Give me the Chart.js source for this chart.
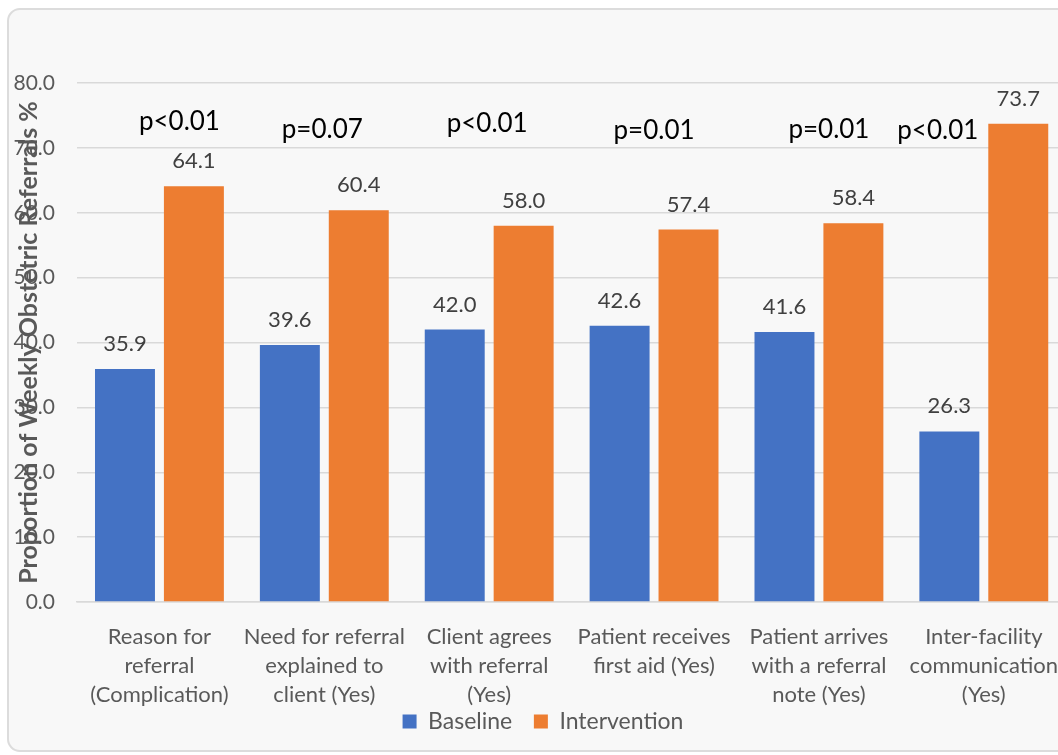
<!DOCTYPE html>
<html>
<head>
<meta charset="utf-8">
<script src="https://cdn.jsdelivr.net/npm/chart.js@4.4.1/dist/chart.umd.min.js"></script>
<style>
  html, body { margin: 0; padding: 0; background: #ffffff; overflow: hidden; }
  #box {
    position: absolute; left: 7px; top: 8px;
    width: 1070px; height: 740px;
    border: 2px solid #dcdcdc; border-radius: 13px;
    background: #f8f8f8; overflow: hidden;
  }
  canvas { display: block; }
</style>
</head>
<body>
<div id="box"><canvas id="chart" width="1070" height="745"></canvas></div>
<script>
  var categories = [
    ["Reason for", "referral", "(Complication)"],
    ["Need for referral", "explained to", "client (Yes)"],
    ["Client agrees", "with referral", "(Yes)"],
    ["Patient receives", "first aid (Yes)"],
    ["Patient arrives", "with a referral", "note (Yes)"],
    ["Inter-facility", "communication", "(Yes)"]
  ];
  var baseline = [35.9, 39.6, 42.0, 42.6, 41.6, 26.3];
  var intervention = [64.1, 60.4, 58.0, 57.4, 58.4, 73.7];
  var pValues = ["p<0.01", "p=0.07", "p<0.01", "p=0.01", "p=0.01", "p<0.01"];

  var FONT = "Lato";

  // value labels over the bars
  var valueLabels = {
    id: "valueLabels",
    afterDatasetsDraw: function(chart) {
      var ctx = chart.ctx;
      ctx.save();
      ctx.font = "22px " + FONT;
      ctx.fillStyle = "#404040";
      ctx.textAlign = "center";
      ctx.textBaseline = "middle";
      chart.data.datasets.forEach(function(ds, di) {
        chart.getDatasetMeta(di).data.forEach(function(bar, i) {
          ctx.fillText(ds.data[i].toFixed(1), bar.x, bar.y - 25);
        });
      });
      ctx.restore();
    }
  };

  // p-value notes and the rotated y title
  var notes = {
    id: "notes",
    afterLayout: function(chart) {
      // nudge the legend a little to the right
      chart.legend.left += 5;
      chart.legend.right += 5;
    },
    afterDraw: function(chart) {
      var ctx = chart.ctx;
      var xs = chart.scales.x, ys = chart.scales.y;
      var dx = [20, -2, -2, 0, 10, -46];
      var yv = [74.0, 72.8, 73.8, 72.6, 72.8, 72.6];
      ctx.save();
      ctx.font = "26px " + FONT;
      ctx.fillStyle = "#000000";
      ctx.textAlign = "center";
      ctx.textBaseline = "middle";
      pValues.forEach(function(p, i) {
        ctx.fillText(p, xs.getPixelForValue(i) + dx[i], ys.getPixelForValue(yv[i]));
      });
      ctx.restore();

      var a = chart.chartArea;
      ctx.save();
      ctx.translate(20, (a.top + a.bottom) / 2);
      ctx.rotate(-Math.PI / 2);
      ctx.font = "bold 25px " + FONT;
      ctx.fillStyle = "#595959";
      ctx.textAlign = "center";
      ctx.textBaseline = "middle";
      ctx.fillText("Proportion of Weekly Obstetric Referrals %", 0, 0);
      ctx.restore();
    }
  };

  var ctx = document.getElementById("chart").getContext("2d");
  var chart = new Chart(ctx, {
    type: "bar",
    data: {
      labels: categories,
      datasets: [{
        label: "Baseline",
        data: baseline,
        backgroundColor: "#4472C4",
        categoryPercentage: 0.836,
        barPercentage: 0.87
      }, {
        label: "Intervention",
        data: intervention,
        backgroundColor: "#ED7D31",
        categoryPercentage: 0.836,
        barPercentage: 0.87
      }]
    },
    options: {
      responsive: false,
      animation: false,
      layout: { padding: { top: 73, right: 12, bottom: 12, left: 0 } },
      plugins: {
        legend: {
          position: "bottom",
          labels: {
            boxWidth: 14,
            boxHeight: 14,
            padding: 4,
            color: "#595959",
            font: { family: FONT, size: 23 },
            generateLabels: function(chart) {
              var items = Chart.defaults.plugins.legend.labels.generateLabels(chart);
              items[0].text = items[0].text + "   ";
              return items;
            }
          }
        },
        tooltip: { enabled: false }
      },
      scales: {
        x: {
          grid: { display: false, drawTicks: false },
          border: { display: true, color: "#d9d9d9", width: 1.5 },
          ticks: {
            color: "#595959",
            maxRotation: 0,
            autoSkip: false,
            padding: 20,
            font: { family: FONT, size: 22, lineHeight: 1.32 }
          },
          afterFit: function(s) { s.height = 104; }
        },
        y: {
          min: 0,
          max: 80,
          grid: { color: "#d9d9d9", lineWidth: 1.5, drawTicks: false },
          border: { display: false },
          ticks: {
            stepSize: 10,
            padding: 22,
            color: "#595959",
            font: { family: FONT, size: 21 },
            callback: function(v) { return v.toFixed(1); }
          },
          afterFit: function(s) { s.width = 68; }
        }
      }
    },
    plugins: [valueLabels, notes]
  });
</script>
</body>
</html>
